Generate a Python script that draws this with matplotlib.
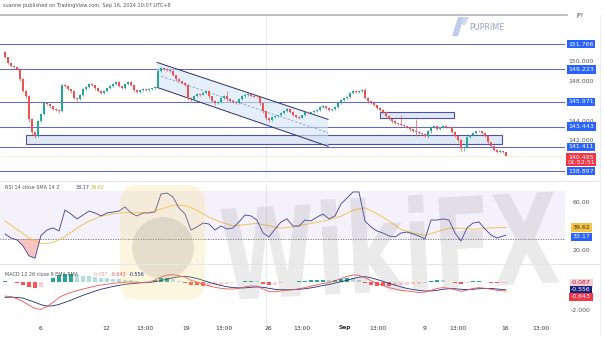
import numpy as np
import matplotlib
matplotlib.use('Agg')
import matplotlib.pyplot as plt
from matplotlib.patches import Polygon, Rectangle, FancyBboxPatch, Circle, PathPatch
from matplotlib.transforms import blended_transform_factory as blend, Affine2D
from matplotlib.textpath import TextPath
from matplotlib.font_manager import FontProperties

# ---------------- DATA ----------------
first_open = 150.96
closes = [
    150.45, 149.85, 149.54, 149.44, 149.24, 148.22, 147.01, 146.50, 144.17, 142.86, 142.45, 143.97,
    144.68, 145.79, 145.69, 145.49, 145.19, 145.09, 144.98, 147.62, 147.52, 147.21, 147.01, 146.30,
    146.20, 146.61, 147.21, 147.41, 147.72, 147.62, 147.31, 147.01, 146.81, 147.01, 147.31, 147.52,
    147.72, 147.92, 147.52, 147.31, 147.72, 147.92, 147.62, 147.11, 146.91, 147.11, 147.21, 147.11,
    147.21, 147.31, 147.41, 149.04, 149.34, 149.30, 149.14, 149.04, 148.63, 148.22, 148.02, 147.82,
    147.62, 146.30, 146.20, 146.50, 146.71, 146.68, 146.81, 147.01, 146.50, 145.99, 145.79, 145.89,
    146.30, 146.50, 146.20, 145.99, 145.89, 145.85, 146.20, 146.50, 146.61, 146.71, 146.50, 146.48,
    146.40, 145.79, 144.98, 144.27, 144.07, 144.37, 144.48, 144.58, 144.78, 144.98, 145.19, 144.88,
    144.58, 144.37, 144.35, 144.58, 144.88, 144.78, 144.88, 144.98, 145.09, 145.39, 145.49, 145.29,
    145.09, 145.19, 145.39, 145.79, 146.10, 146.30, 146.40, 146.81, 147.01, 146.91, 147.01, 147.11,
    146.30, 145.99, 145.79, 145.59, 145.29, 145.09, 144.88, 144.48, 144.17, 143.97, 143.77, 143.67,
    143.57, 143.46, 143.36, 143.16, 142.96, 142.86, 142.75, 142.65, 142.45, 142.96, 143.36, 143.46,
    143.16, 143.36, 143.46, 143.44, 143.36, 142.86, 142.45, 142.05, 141.24, 141.34, 142.35, 142.55,
    142.75, 142.96, 142.94, 142.75, 142.45, 141.84, 141.44, 141.03, 140.83, 140.93, 140.83, 140.50,
]
wick_hi = [
    0.10, 0.08, 0.10, 0.08, 0.08, 0.10, 0.12, 0.10, 0.15, 0.10, 0.12, 0.15,
    0.10, 0.12, 0.15, 0.10, 0.08, 0.10, 0.08, 0.15, 0.12, 0.10, 0.08, 0.10,
    0.08, 0.10, 0.10, 0.12, 0.10, 0.15, 0.08, 0.10, 0.08, 0.10, 0.08, 0.10,
    0.10, 0.12, 0.15, 0.08, 0.10, 0.12, 0.10, 0.08, 0.10, 0.08, 0.10, 0.08,
    0.10, 0.08, 0.10, 0.25, 0.15, 0.10, 0.12, 0.08, 0.10, 0.08, 0.10, 0.08,
    0.10, 0.15, 0.10, 0.12, 0.10, 0.08, 0.10, 0.15, 0.10, 0.08, 0.10, 0.12,
    0.10, 0.15, 0.50, 0.10, 0.08, 0.10, 0.12, 0.10, 0.15, 0.10, 0.08, 0.10,
    0.12, 0.10, 0.08, 0.10, 0.08, 0.10, 0.12, 0.08, 0.10, 0.12, 0.10, 0.08,
    0.10, 0.08, 0.10, 0.08, 0.12, 0.10, 0.08, 0.10, 0.08, 0.12, 0.10, 0.08,
    0.10, 0.08, 0.10, 0.12, 0.10, 0.08, 0.10, 0.12, 0.15, 0.10, 0.08, 0.12,
    0.20, 0.10, 0.08, 0.10, 0.08, 0.10, 0.08, 0.10, 0.12, 0.08, 0.10, 0.08,
    0.90, 0.10, 0.08, 0.10, 0.08, 1.20, 0.10, 0.08, 0.10, 0.08, 0.10, 0.12,
    0.10, 0.08, 0.12, 0.10, 0.08, 0.10, 0.08, 0.10, 0.10, 0.15, 0.10, 0.12,
    0.10, 0.08, 0.12, 0.10, 0.08, 0.10, 0.08, 0.10, 0.08, 0.10, 0.08, 0.05,
]
wick_lo = [
    0.08, 0.10, 0.08, 0.10, 0.08, 0.20, 0.10, 0.15, 0.30, 0.30, 0.15, 0.10,
    0.10, 0.08, 0.10, 0.12, 0.10, 0.08, 0.15, 0.10, 0.08, 0.10, 0.12, 0.10,
    0.12, 0.10, 0.08, 0.10, 0.08, 0.10, 0.12, 0.10, 0.10, 0.08, 0.10, 0.08,
    0.08, 0.10, 0.12, 0.10, 0.08, 0.10, 0.08, 0.12, 0.10, 0.08, 0.10, 0.08,
    0.10, 0.08, 0.10, 0.10, 0.08, 0.12, 0.10, 0.08, 0.10, 0.12, 0.08, 0.10,
    0.08, 0.20, 0.15, 0.10, 0.08, 0.10, 0.08, 0.10, 0.12, 0.10, 0.15, 0.08,
    0.10, 0.08, 0.12, 0.10, 0.08, 0.10, 0.08, 0.10, 0.12, 0.08, 0.10, 0.08,
    0.10, 0.20, 0.20, 0.15, 0.15, 0.10, 0.08, 0.10, 0.08, 0.10, 0.08, 0.10,
    0.12, 0.10, 0.12, 0.08, 0.10, 0.08, 0.10, 0.08, 0.10, 0.08, 0.10, 0.08,
    0.10, 0.08, 0.10, 0.08, 0.10, 0.08, 0.10, 0.08, 0.10, 0.08, 0.10, 0.08,
    0.10, 0.12, 0.10, 0.08, 0.10, 0.12, 0.10, 0.08, 0.10, 0.12, 0.10, 0.08,
    0.10, 0.08, 0.10, 0.12, 0.10, 0.40, 0.10, 0.08, 0.10, 0.12, 0.20, 0.10,
    0.08, 0.10, 0.08, 0.10, 0.08, 0.12, 0.10, 0.15, 0.30, 0.25, 0.10, 0.08,
    0.10, 0.08, 0.10, 0.08, 0.10, 0.12, 0.10, 0.10, 0.08, 0.10, 0.08, 0.06,
]

levels = [151.766, 149.223, 145.971, 143.443, 141.411, 138.897]
level_labels = ['151.766', '149.223', '145.971', '143.443', '141.411', '138.897']
price_ticks = [150.0, 148.0, 144.0, 142.0]
price_tick_labels = ['150.000', '148.000', '144.000', '142.000']
last_price = 140.495
countdown = '01:52:51'

# drawn objects (candle index, price)
channel_x = [50.7, 107.7]
channel_upper = [149.94, 144.17]
channel_lower = [147.41, 141.44]
zone_big = dict(x0=7.0, x1=165.7, y0=141.69, y1=142.58)
zone_small = dict(x0=125.0, x1=149.7, y0=144.34, y1=144.95)
session_line_x = 87.0

# RSI sampled every 2 candles, SMA every 4 candles, last point at candle 167
rsi_vals = [
    34.2, 30.8, 29.2, 24.2, 16.0, 14.0, 33.0, 37.5, 39.2, 36.7, 54.2, 50.8,
    46.7, 50.0, 53.3, 51.7, 49.2, 51.7, 52.5, 53.3, 56.7, 51.7, 49.2, 51.7,
    51.7, 52.5, 67.5, 68.3, 65.0, 55.8, 50.8, 37.5, 40.0, 43.3, 42.5, 37.5,
    40.8, 38.3, 39.2, 44.2, 50.0, 49.2, 45.8, 35.0, 31.7, 38.3, 44.2, 46.7,
    40.8, 40.8, 45.8, 45.0, 48.3, 50.8, 46.7, 49.2, 59.2, 64.2, 69.2, 69.2,
    45.0, 40.0, 36.7, 35.0, 32.5, 31.7, 35.0, 35.8, 34.2, 32.5, 30.0, 45.8,
    45.8, 46.7, 45.8, 35.0, 28.3, 39.2, 43.3, 44.2, 38.3, 33.3, 30.8, 32.5,
    33.17,
]
rsi_sma = [
    45, 38, 31, 26, 27, 32, 39, 45, 49, 51, 52, 52, 52, 55, 58, 58, 54, 48,
    44, 41, 42, 43, 41, 39, 40, 42, 44, 46, 49, 54, 56, 51, 45, 38, 35, 33,
    36, 39, 39, 38, 39, 39.5, 39.62,
]
rsi_ticks = [60, 20]
rsi_tick_labels = ['60.00', '20.00']

macd_line = [
    -1.00, -1.05, -1.20, -1.40, -1.65, -1.90, -1.95, -1.75, -1.45, -1.10, -0.90, -0.75,
    -0.62, -0.50, -0.40, -0.30, -0.22, -0.16, -0.10, -0.05, -0.02, 0.00, -0.03, -0.02,
    0.00, 0.15, 0.35, 0.50, 0.52, 0.45, 0.35, 0.12, 0.00, -0.15, -0.28, -0.38,
    -0.45, -0.50, -0.50, -0.45, -0.35, -0.28, -0.30, -0.50, -0.68, -0.70, -0.64, -0.58,
    -0.55, -0.48, -0.40, -0.30, -0.20, -0.10, -0.05, 0.08, 0.25, 0.40, 0.50, 0.48,
    0.30, 0.10, -0.10, -0.25, -0.40, -0.50, -0.60, -0.64, -0.70, -0.75, -0.72, -0.60,
    -0.46, -0.40, -0.45, -0.55, -0.66, -0.58, -0.46, -0.40, -0.45, -0.52, -0.60, -0.63,
    -0.643,
]
macd_signal = [
    -1.10, -1.08, -1.10, -1.15, -1.30, -1.45, -1.62, -1.72, -1.70, -1.60, -1.45, -1.30,
    -1.12, -0.95, -0.80, -0.65, -0.52, -0.42, -0.32, -0.24, -0.17, -0.12, -0.08, -0.05,
    -0.03, 0.02, 0.10, 0.20, 0.30, 0.37, 0.40, 0.35, 0.25, 0.12, -0.02, -0.14,
    -0.25, -0.34, -0.40, -0.42, -0.42, -0.38, -0.35, -0.38, -0.45, -0.52, -0.55, -0.56,
    -0.55, -0.52, -0.48, -0.42, -0.34, -0.25, -0.18, -0.08, 0.02, 0.12, 0.25, 0.34,
    0.38, 0.30, 0.18, 0.05, -0.10, -0.22, -0.35, -0.46, -0.54, -0.60, -0.64, -0.64,
    -0.60, -0.52, -0.48, -0.48, -0.52, -0.54, -0.52, -0.48, -0.46, -0.46, -0.50, -0.54,
    -0.556,
]
macd_labels = ['-0.087', '-0.556', '-0.643']
macd_tick = -2.0

date_tick_pos = [11.7, 33.7, 46.7, 60.3, 73.0, 87.7, 99.0, 113.3, 124.3, 139.7, 151.0, 166.7, 178.7]
date_tick_labels = ['6', '12', '13:00', '19', '13:00', '26', '13:00', 'Sep', '13:00', '9', '13:00', '16', '13:00']

# ---------------- FIGURE ----------------
W, H = 604, 342
fig = plt.figure(figsize=(W / 100, H / 100), dpi=100)
fig.patch.set_facecolor('white')


def rect(x0, y0, x1, y1):
    return [x0 / W, 1 - y1 / H, (x1 - x0) / W, (y1 - y0) / H]


XMIN, XMAX = -1.667, 186.67
ax = fig.add_axes(rect(0, 15, 565, 178))
ax_rsi = fig.add_axes(rect(0, 184, 565, 262))
ax_macd = fig.add_axes(rect(0, 265, 565, 322))
for a in (ax, ax_rsi, ax_macd):
    a.set_xlim(XMIN, XMAX)
    a.axis('off')
    a.axvline(session_line_x, color='#e3e5ea', lw=0.6, zorder=0)
ax.set_ylim(138.228, 154.745)
ax_rsi.set_ylim(10.83, 75.83)
ax_macd.set_ylim(-2.857, 1.214)

UP, DOWN = '#26a69a', '#ef5350'
LEVEL_C = '#6168cc'
NAVY = '#2b2f6e'

# ---- main pane ----
for lv in levels:
    ax.axhline(lv, color=LEVEL_C, lw=0.75, zorder=1)
ax.axhline(last_price, color='#efe2a0', lw=0.6, ls=(0, (1.5, 1.5)), zorder=1)

for z in (zone_big, zone_small):
    ax.add_patch(Rectangle((z['x0'], z['y0']), z['x1'] - z['x0'], z['y1'] - z['y0'],
                           fc='#dce7f5', ec='#3d3f9c', lw=0.8, alpha=0.9, zorder=2))

cx0, cx1 = channel_x
ax.add_patch(Polygon([(cx0, channel_upper[0]), (cx1, channel_upper[1]),
                      (cx1, channel_lower[1]), (cx0, channel_lower[0])],
                     closed=True, fc='#d3e5f7', ec='none', alpha=0.6, zorder=2))
ax.plot(channel_x, channel_upper, color=NAVY, lw=0.7, zorder=3)
ax.plot(channel_x, channel_lower, color=NAVY, lw=0.7, zorder=3)
ax.plot(channel_x, [(u + l) / 2 for u, l in zip(channel_upper, channel_lower)],
        color='#8c9ccc', lw=0.6, ls=(0, (3, 2)), zorder=3)

closes_a = np.array(closes)
opens_a = np.concatenate([[first_open], closes_a[:-1]])
idx = np.arange(len(closes_a))
for i in idx:
    o, c = opens_a[i], closes_a[i]
    col = UP if c >= o else DOWN
    hi = max(o, c) + wick_hi[i]
    lo = min(o, c) - wick_lo[i]
    ax.vlines(i, lo, hi, color=col, lw=0.5, zorder=4)
    ax.bar(i, max(abs(c - o), 0.05), bottom=min(o, c), width=0.65, color=col, lw=0, zorder=5)

tr_main = blend(fig.transFigure, ax.transData)
LX = 581 / W


def rlab(a, y, s, fc, tc, fs=4.5):
    a.text(LX, y, s, transform=blend(fig.transFigure, a.transData), ha='center', va='center',
           fontsize=fs, color=tc, clip_on=False, zorder=20,
           bbox=dict(boxstyle='square,pad=0.25', fc=fc, ec='none'))


def rtick(a, y, s, fs=4.5):
    a.text(LX, y, s, transform=blend(fig.transFigure, a.transData), ha='center', va='center',
           fontsize=fs, color='#555555', clip_on=False, zorder=20)


for t, s in zip(price_ticks, price_tick_labels):
    rtick(ax, t, s)
for lv, s in zip(levels, level_labels):
    rlab(ax, lv, s, '#2962ff', 'white')
ax.text(LX, last_price - 0.42, f'{last_price:.3f}\n{countdown}', transform=tr_main, ha='center',
        va='center', fontsize=4.5, color='white', linespacing=1.05, clip_on=False, zorder=21,
        bbox=dict(boxstyle='square,pad=0.25', fc='#f23645', ec='none'))

# ---- RSI pane ----
rsi_x = np.append(np.arange(0, 168, 2), 167)
sma_x = np.append(np.arange(0, 168, 4), 167)
rsi_a = np.array(rsi_vals)
ax_rsi.axhspan(30, 70, color='#7e57c2', alpha=0.08, lw=0, zorder=0)
ax_rsi.axhline(30, color='#6b6b6b', lw=0.6, ls=(0, (1.5, 1.5)), zorder=1)
ax_rsi.fill_between(rsi_x, rsi_a, 30, where=rsi_a < 30, interpolate=True,
                    color='#ef5350', alpha=0.35, lw=0, zorder=1)
ax_rsi.plot(sma_x, rsi_sma, color='#f3c45a', lw=0.7, zorder=2)
ax_rsi.plot(rsi_x, rsi_a, color='#3a3d9c', lw=0.6, zorder=3)
for t, s in zip(rsi_ticks, rsi_tick_labels):
    rtick(ax_rsi, t, s)
rlab(ax_rsi, rsi_sma[-1], f'{rsi_sma[-1]:.2f}', '#f5c542', '#333333')
rlab(ax_rsi, rsi_vals[-1] - 1.5, f'{rsi_vals[-1]:.2f}', '#2962ff', 'white')

# ---- MACD pane ----
m = np.array(macd_line)
s = np.array(macd_signal)
hist = m - s
hcols = []
for i, h in enumerate(hist):
    prev = hist[i - 1] if i > 0 else h
    if h >= 0:
        hcols.append('#26a69a' if h >= prev else '#b2dfdb')
    else:
        hcols.append('#ff5252' if h <= prev else '#ffcdd2')
ax_macd.bar(rsi_x, hist, width=1.3, color=hcols, lw=0, zorder=1)
ax_macd.plot(rsi_x, s, color='#1f2a7a', lw=0.6, zorder=2)
ax_macd.plot(rsi_x, m, color='#ef5350', lw=0.6, zorder=3)
rtick(ax_macd, macd_tick, f'{macd_tick:.3f}')
rlab(ax_macd, -0.07, macd_labels[0], '#f8cdd3', '#b71c3c')
rlab(ax_macd, -0.57, macd_labels[1], '#1a237e', 'white')
rlab(ax_macd, -1.07, macd_labels[2], '#f23645', 'white')

# date labels
tr_dates = blend(ax_macd.transData, fig.transFigure)
for p, lab in zip(date_tick_pos, date_tick_labels):
    ax_macd.text(p, 1 - 328 / H, lab, transform=tr_dates, ha='center', va='center', fontsize=4.3,
                 color='#333333', fontweight='bold' if lab == 'Sep' else 'normal', clip_on=False)

# ---------------- overlay (header, separators, watermarks) ----------------
ov = fig.add_axes([0, 0, 1, 1], zorder=6)
ov.set_xlim(0, W)
ov.set_ylim(H, 0)
ov.axis('off')
ov.patch.set_alpha(0)

ov.text(3, 6, 'suanne published on TradingView.com, Sep 16, 2024 10:07 UTC+8', fontsize=3.6,
        color='#555555', va='center', ha='left')
ov.plot([0, 567], [15, 15], color='#b0b3bb', lw=1.2)
ov.text(576, 16, 'JPY', fontsize=3.6, color='#555555', va='center', ha='left')
for yy in (180.5, 263.5):
    ov.plot([0, 600], [yy, yy], color='#e4e6ec', lw=0.8)
ov.plot([600, 600], [15, 335], color='#eceef2', lw=0.8)

# pane legends
ov.text(5, 187.5, 'RSI 14 close SMA 14 2', fontsize=3.5, color='#555555', va='center', ha='left')
ov.text(76, 187.5, f'{rsi_vals[-1]:.2f}', fontsize=3.5, color='#3a3d9c', va='center', ha='left')
ov.text(91, 187.5, f'{rsi_sma[-1]:.2f}', fontsize=3.5, color='#e0a930', va='center', ha='left')
ov.text(5, 274, 'MACD 12 26 close 9 EMA EMA', fontsize=3.5, color='#555555', va='center', ha='left')
ov.text(93, 274, macd_labels[0], fontsize=3.5, color='#e8a0aa', va='center', ha='left')
ov.text(111, 274, macd_labels[2], fontsize=3.5, color='#ef5350', va='center', ha='left')
ov.text(129, 274, macd_labels[1], fontsize=3.5, color='#1f2a7a', va='center', ha='left')

# PUPRIME logo
ov.add_patch(Polygon([(452, 36), (458, 17), (464, 17), (458, 36)], fc='#b7c7e9', ec='none', alpha=0.9))
ov.add_patch(Polygon([(459, 25), (463, 17), (469, 17), (465, 25)], fc='#c9d6f0', ec='none', alpha=0.9))
ov.text(469, 28, 'PUPRIME', fontsize=5.8, color='#9aa5c2', va='center', ha='left')

# WikiFX watermark
ov.add_patch(FancyBboxPatch((120, 185), 85, 115, boxstyle='round,pad=0,rounding_size=18',
                            fc='#f6d55c', ec='none', alpha=0.2))
ov.add_patch(Circle((163, 248), 31, fc='#7a7a7a', ec='none', alpha=0.18))
tp = TextPath((0, 0), 'WikiFX', size=100, prop=FontProperties(family='DejaVu Sans', weight='bold'))
ext = tp.get_extents()
sx = 335 / ext.width
sy = 95 / ext.height
trp = Affine2D().translate(-ext.x0, -ext.y0).scale(sx, sy).rotate_deg(3).scale(1, -1).translate(225, 300)
ov.add_patch(PathPatch(trp.transform_path(tp), fc='#808080', ec='none', alpha=0.16))

fig.savefig('out.png', dpi=100, facecolor='white')
